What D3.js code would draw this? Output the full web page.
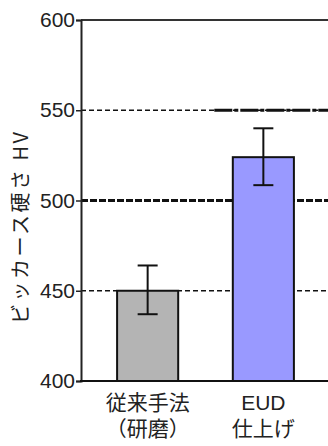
<!DOCTYPE html>
<html>
<head>
<meta charset="utf-8">
<script src="https://cdn.jsdelivr.net/npm/d3@7"></script>
<style>
	body { margin: 0; background: #fff; }
	text { font-family: "Noto Sans CJK JP", sans-serif; fill: #222; }
</style>
</head>
<body>
<div id="chart"></div>
<script>
// data
var categories = ["従来手法（研磨）", "EUD仕上げ"];
var categoryLines = [["従来手法", "（研磨）"], ["EUD", "仕上げ"]];
var hardness = [450, 524];
var errLow = [437, 508.5];
var errHigh = [464, 540];
var barColors = ["#b4b4b4", "#9999ff"];
var yTicks = [400, 450, 500, 550, 600];
var yLabel = "ビッカース硬さ HV";
// gridline styles per tick value
var gridThick = [500];
var gridThin = [450, 550];
// upper reference line that starts near the second category
var refValue = 550;
var refCategory = "EUD仕上げ";

var W = 328, H = 446;
var margin = { left: 81, top: 20, bottom: 65 };

var svg = d3
	.select("#chart")
	.append("svg")
	.attr("width", W)
	.attr("height", H);

svg.append("rect").attr("width", W).attr("height", H).attr("fill", "#fff");

var y = d3
	.scaleLinear()
	.domain([400, 600])
	.range([H - margin.bottom, margin.top]);

var x = d3
	.scaleBand()
	.domain(categories)
	.range([margin.left, 330]) // right side of the frame falls just off the picture
	.paddingInner(0.472)
	.paddingOuter(0.312);

// gridlines (behind bars)
svg.selectAll(".gthin")
	.data(gridThin)
	.enter()
	.append("line")
	.attr("x1", margin.left)
	.attr("x2", W)
	.attr("y1", (d) => y(d))
	.attr("y2", (d) => y(d))
	.attr("stroke", "#111")
	.attr("stroke-width", 1.5)
	.attr("stroke-dasharray", "5,3");

svg.selectAll(".gthick")
	.data(gridThick)
	.enter()
	.append("line")
	.attr("x1", margin.left)
	.attr("x2", W)
	.attr("y1", (d) => y(d))
	.attr("y2", (d) => y(d))
	.attr("stroke", "#111")
	.attr("stroke-width", 3)
	.attr("stroke-dasharray", "7,2");

// reference line
svg.append("line")
	.attr("x1", x(refCategory) - x.step() * 0.16)
	.attr("x2", W)
	.attr("y1", y(refValue))
	.attr("y2", y(refValue))
	.attr("stroke", "#111")
	.attr("stroke-width", 3)
	.attr("stroke-dasharray", "18,2,4,2");

// bars
svg.selectAll(".bar")
	.data(categories)
	.enter()
	.append("rect")
	.attr("x", (d) => x(d))
	.attr("y", (d, i) => y(hardness[i]))
	.attr("width", x.bandwidth())
	.attr("height", (d, i) => y(400) - y(hardness[i]))
	.attr("fill", (d, i) => barColors[i])
	.attr("stroke", "#111")
	.attr("stroke-width", 2);

// error bars
var capW = 20;
categories.forEach(function (c, i) {
	var cx = x(c) + x.bandwidth() / 2;
	var g = svg.append("g").attr("stroke", "#111").attr("stroke-width", 2);
	g.append("line").attr("x1", cx).attr("x2", cx).attr("y1", y(errHigh[i])).attr("y2", y(errLow[i]));
	g.append("line").attr("x1", cx - capW / 2).attr("x2", cx + capW / 2).attr("y1", y(errHigh[i])).attr("y2", y(errHigh[i]));
	g.append("line").attr("x1", cx - capW / 2).attr("x2", cx + capW / 2).attr("y1", y(errLow[i])).attr("y2", y(errLow[i]));
});

// top frame
svg.append("line")
	.attr("x1", margin.left)
	.attr("x2", W)
	.attr("y1", y(600))
	.attr("y2", y(600))
	.attr("stroke", "#333")
	.attr("stroke-width", 2);

// y axis
var yAxis = svg
	.append("g")
	.attr("transform", "translate(" + margin.left + ",0)")
	.call(d3.axisLeft(y).tickValues(yTicks).tickSize(5).tickPadding(1));
yAxis.select(".domain").attr("stroke", "#222").attr("stroke-width", 2);
yAxis.selectAll(".tick line").attr("stroke", "#222").attr("stroke-width", 1.5);
yAxis.selectAll(".tick text")
	.style("font-size", "21px")
	.style("font-family", '"Liberation Sans", sans-serif')
	.attr("fill", "#333");

// x axis baseline
svg.append("line")
	.attr("x1", margin.left - 1)
	.attr("x2", W)
	.attr("y1", y(400))
	.attr("y2", y(400))
	.attr("stroke", "#111")
	.attr("stroke-width", 2);

// category labels, one text per line
// latin font first keeps the line boxes tight, CJK glyphs fall back to Noto
categories.forEach(function (c, i) {
	categoryLines[i].forEach(function (line, j) {
		svg.append("text")
			.attr("text-anchor", "middle")
			.attr("x", x(c) + x.bandwidth() / 2)
			.attr("y", 410 + j * 26)
			.style("font-family", '"Liberation Sans", "Noto Sans CJK JP", sans-serif')
			.style("font-size", "21px")
			.text(line);
	});
});

// y label
svg.append("text")
	.attr("transform", "translate(28,228) rotate(-90)")
	.attr("text-anchor", "middle")
	.attr("textLength", 192)
	.attr("lengthAdjust", "spacing")
	.style("font-size", "20px")
	.text(yLabel);
</script>
</body>
</html>
